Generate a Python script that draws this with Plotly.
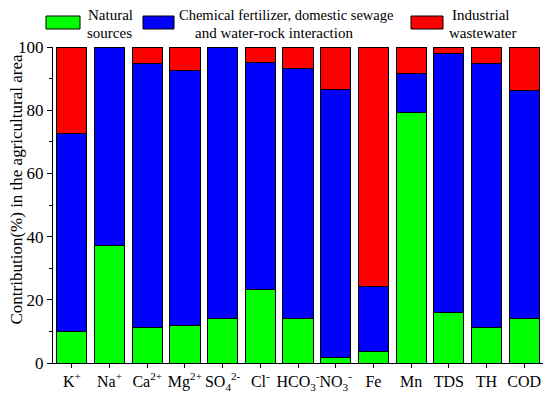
import plotly.graph_objects as go

categories = ["K<sup>+</sup>", "Na<sup>+</sup>", "Ca<sup>2+</sup>", "Mg<sup>2+</sup>",
              "SO<sub>4</sub><sup>2-</sup>", "Cl<sup>-</sup>", "HCO<sub>3</sub><sup>-</sup>",
              "NO<sub>3</sub><sup>-</sup>", "Fe", "Mn", "TDS", "TH", "COD"]
natural = [9.9, 37.2, 11.2, 11.9, 14.1, 23.2, 14.2, 1.7, 3.5, 79.3, 16.0, 11.1, 14.1]
chem_cum = [72.5, 100, 94.8, 92.6, 100, 95.0, 93.3, 86.7, 24.3, 91.7, 97.8, 94.7, 86.3]
chemical = [round(c - n, 2) for c, n in zip(chem_cum, natural)]
industrial = [round(100 - c, 2) for c in chem_cum]
y_title = "Contribution(%) in the agricultural area"

FONT = "Liberation Serif"
W, H = 550, 395
L, R, T, B = 53, 7, 47, 32
pw, ph = W - L - R, H - T - B

def px(x):
    return (x - L) / pw

def py(y):
    return (H - B - y) / ph

fig = go.Figure()
x = list(range(len(categories)))
for name, vals, col in [("Natural sources", natural, "#00FF00"),
                        ("Chemical fertilizer, domestic sewage and water-rock interaction", chemical, "#0000FF"),
                        ("Industrial wastewater", industrial, "#FF0000")]:
    fig.add_trace(go.Bar(x=x, y=vals, name=name, marker=dict(color=col, line=dict(color="black", width=1)),
                         showlegend=False))

fig.update_layout(
    barmode="stack", bargap=0.2,
    width=W, height=H,
    margin=dict(l=L, r=R, t=T, b=B),
    plot_bgcolor="white", paper_bgcolor="white",
    font=dict(family=FONT, size=16, color="black"),
)
fig.update_xaxes(range=[-0.5, 12.5], tickmode="array", tickvals=x, ticktext=categories, tickangle=0,
                 automargin=False,
                 showline=True, linecolor="black", linewidth=1, ticks="outside", ticklen=4,
                 tickcolor="black", showgrid=False, zeroline=False, tickfont=dict(size=16, family=FONT))
fig.update_yaxes(range=[0, 100], tickvals=[0, 20, 40, 60, 80, 100], showline=True, linecolor="black",
                 automargin=False,
                 linewidth=1, ticks="outside", ticklen=5, tickcolor="black", showgrid=False,
                 zeroline=False, tickfont=dict(size=17, family=FONT),
                 minor=dict(tickvals=[10, 30, 50, 70, 90], ticks="outside", ticklen=3, tickcolor="black"))

fig.add_annotation(text=y_title, xref="paper", yref="paper", x=px(15.5), y=py(190), textangle=-90,
                   xanchor="center", yanchor="middle", showarrow=False, font=dict(size=17, family=FONT))

# legend (manual)
boxes = [(46, 80, "#00FF00"), (143, 174, "#0000FF"), (411, 443, "#FF0000")]
for x0, x1, col in boxes:
    fig.add_shape(type="rect", xref="paper", yref="paper", x0=px(x0), x1=px(x1), y0=py(29), y1=py(16),
                  fillcolor=col, line=dict(color="black", width=1))
texts = [("Natural", 110, 15, 15), ("sources", 109, 33, 15),
         ("Chemical fertilizer, domestic sewage", 286, 15, 14.5), ("and water-rock interaction", 274, 33, 15),
         ("Industrial", 481, 15, 15), ("wastewater", 482, 33, 15)]
for t, cx, cy, fs in texts:
    fig.add_annotation(text=t, xref="paper", yref="paper", x=px(cx), y=py(cy), xanchor="center",
                       yanchor="middle", showarrow=False, font=dict(size=fs, family=FONT))

fig.write_html("out.html", config={"displayModeBar": False, "staticPlot": True},
               post_script="document.body.style.margin='0';document.body.style.overflow='hidden';")
